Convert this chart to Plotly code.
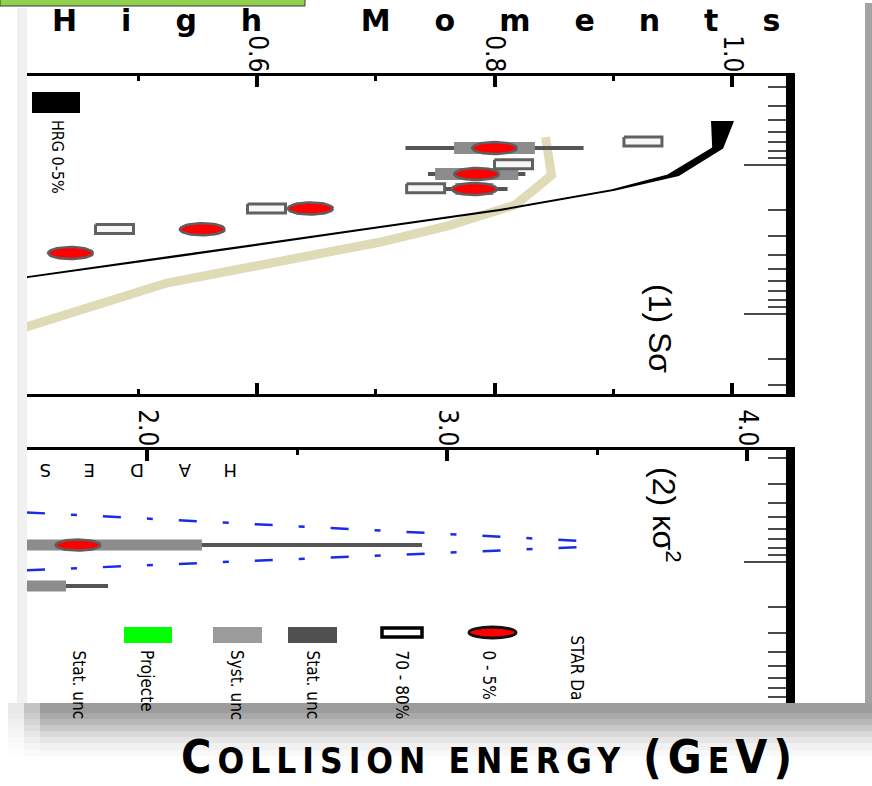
import numpy as np
import plotly.graph_objects as go

W, H = 872, 786

# ---------------- Panel (1): S*sigma versus collision energy ----------------
star_energy = [7.7, 11.5, 14.5, 19.6, 27.0, 39.0]
ssig_0_5 = [0.800, 0.785, 0.783, 0.645, 0.554, 0.443]
ssig_0_5_stat = [0.075, 0.041, 0.028, 0.014, 0.012, 0.012]
ssig_0_5_sys = [0.034, 0.035, 0.016, 0.012, 0.010, 0.010]

periph_energy = [6.95, 9.9, 14.3, 19.6, 26.9]
ssig_70_80 = [0.925, 0.816, 0.742, 0.608, 0.480]

hrg_energy = [5.07, 7.69, 11.7, 14.7, 20.0, 22.3, 27.0, 39.0, 56.5, 62.4]
hrg_low = [0.983, 0.984, 0.946, 0.899, 0.804, 0.762, 0.690, 0.551, 0.406, 0.370]
hrg_high = [1.001, 0.992, 0.955, 0.901, 0.806, 0.764, 0.692, 0.553, 0.408, 0.372]

model_energy = [6.5, 11.7, 14.5, 18.6, 25.7, 33.0, 62.0, 122.0, 200.0]
model_ssig = [0.843, 0.848, 0.834, 0.817, 0.760, 0.703, 0.524, 0.406, 0.320]

# ---------------- Panel (2): kappa*sigma^2 versus collision energy ----------------
k_energy = [7.7, 14.5]
ksig2_0_5 = [1.77, 1.45]
ksig2_stat = [1.147, 0.42]
ksig2_sys = [0.413, 0.28]

proj_hi_energy = [4.65, 7.23]
proj_hi = [1.60, 3.453]
proj_lo_energy = [11.37, 7.93]
proj_lo = [1.60, 3.453]

# ---------------- tick values ----------------
top_ticks = [0.6, 0.8, 1.0]
top_minor = [0.5, 0.7, 0.9]
bot_ticks = [2.0, 3.0, 4.0]
bot_minor = [2.5, 3.5]
energy_major = [10, 100]
energy_minor = [2, 3, 4, 5, 6, 7, 8, 9, 20, 30, 40, 50, 60, 70, 80, 90, 200, 300]

legend_labels = ["STAR Da", "0 - 5%", "70 - 80%", "Stat. unc", "Syst. unc", "Projecte", "Stat. unc"]


def px(x):
    return x / W


def py(y):
    return 1 - y / H


# ---------------- axis geometry ----------------
PLOT_L, PLOT_R = 27, 786
TOP_T, TOP_B = 75.5, 394
BOT_T, BOT_B = 449.5, 703
x1_range = [0.6 - (257 - PLOT_L) / 1187.5, 0.6 + (PLOT_R - 257) / 1187.5]
y1_range = [1 + (TOP_B - 165) / 149, 1 - (165 - TOP_T) / 149]
x2_range = [2.0 - (147 - PLOT_L) / 300, 2.0 + (PLOT_R - 147) / 300]
y2_range = [1 + (BOT_B - 562) / 149, 1 - (562 - BOT_T) / 149]

x1_per_px = (x1_range[1] - x1_range[0]) / (PLOT_R - PLOT_L)
x2_per_px = (x2_range[1] - x2_range[0]) / (PLOT_R - PLOT_L)
y1_dec_per_px = (y1_range[0] - y1_range[1]) / (TOP_B - TOP_T)
y2_dec_per_px = (y2_range[0] - y2_range[1]) / (BOT_B - BOT_T)

NARROW = "Liberation Sans Narrow, DejaVu Sans Condensed, Liberation Sans, Arial, sans-serif"

fig = go.Figure()


def marker_polys(xs, es, kind, half_w_px, half_h_px, xpp, dpp):
    """Closed outlines (ellipse or rectangle) around each data point, in data units."""
    X, Y = [], []
    if kind == "ellipse":
        t = np.linspace(0, 2 * np.pi, 49)
        cx, cy = np.cos(t), np.sin(t)
    else:
        cx = np.array([-1, 1, 1, -1, -1])
        cy = np.array([-1, -1, 1, 1, -1])
    for xv, ev in zip(xs, es):
        X += list(xv + half_w_px * xpp * cx) + [None]
        Y += list(ev * 10 ** (half_h_px * dpp * cy)) + [None]
    return X, Y


# panel 1 traces
fig.add_trace(go.Scatter(x=model_ssig, y=model_energy, mode="lines",
                         line=dict(color="#dfdbb6", width=9), xaxis="x", yaxis="y",
                         hoverinfo="skip", showlegend=False))
fig.add_trace(go.Scatter(x=hrg_low + hrg_high[::-1], y=hrg_energy + hrg_energy[::-1],
                         mode="lines", fill="toself", fillcolor="black",
                         line=dict(color="black", width=1.6), xaxis="x", yaxis="y",
                         hoverinfo="skip", showlegend=False))
fig.add_trace(go.Scatter(x=ssig_0_5, y=star_energy, mode="markers",
                         marker=dict(size=2, color="rgba(0,0,0,0)"),
                         error_x=dict(type="data", array=ssig_0_5_stat, thickness=4, width=0, color="#555555"),
                         xaxis="x", yaxis="y", showlegend=False, hoverinfo="skip"))
fig.add_trace(go.Scatter(x=ssig_0_5, y=star_energy, mode="markers",
                         marker=dict(size=2, color="rgba(0,0,0,0)"),
                         error_x=dict(type="data", array=ssig_0_5_sys, thickness=12, width=0, color="#8c8c8c"),
                         xaxis="x", yaxis="y", showlegend=False, hoverinfo="skip"))
rx, ry = marker_polys(ssig_70_80, periph_energy, "rect", 19, 4.5, x1_per_px, y1_dec_per_px)
fig.add_trace(go.Scatter(x=rx, y=ry, mode="lines", fill="toself", fillcolor="#f7f7f7",
                         line=dict(color="#616161", width=3), xaxis="x", yaxis="y",
                         showlegend=False, hoverinfo="skip"))
ex, ey = marker_polys(ssig_0_5, star_energy, "ellipse", 22.5, 6, x1_per_px, y1_dec_per_px)
fig.add_trace(go.Scatter(x=ex, y=ey, mode="lines", fill="toself", fillcolor="#ff0000",
                         line=dict(color="#5f5f5f", width=2.5), xaxis="x", yaxis="y",
                         showlegend=False, hoverinfo="skip"))

# panel 2 traces
for xv, ev in ((proj_hi, proj_hi_energy), (proj_lo, proj_lo_energy)):
    fig.add_trace(go.Scatter(x=xv, y=ev, mode="lines",
                             line=dict(color="#1a2be8", width=2.5, dash="18px,26px,6px,26px"),
                             xaxis="x2", yaxis="y2", showlegend=False, hoverinfo="skip"))
fig.add_trace(go.Scatter(x=ksig2_0_5, y=k_energy, mode="markers",
                         marker=dict(size=2, color="rgba(0,0,0,0)"),
                         error_x=dict(type="data", array=ksig2_stat, thickness=4, width=0, color="#555555"),
                         xaxis="x2", yaxis="y2", showlegend=False, hoverinfo="skip"))
fig.add_trace(go.Scatter(x=ksig2_0_5, y=k_energy, mode="markers",
                         marker=dict(size=2, color="rgba(0,0,0,0)"),
                         error_x=dict(type="data", array=ksig2_sys, thickness=11, width=0, color="#8c8c8c"),
                         xaxis="x2", yaxis="y2", showlegend=False, hoverinfo="skip"))
ex2, ey2 = marker_polys(ksig2_0_5, k_energy, "ellipse", 22.5, 5.5, x2_per_px, y2_dec_per_px)
fig.add_trace(go.Scatter(x=ex2, y=ey2, mode="lines", fill="toself", fillcolor="#ff0000",
                         line=dict(color="#5f5f5f", width=2.5), xaxis="x2", yaxis="y2",
                         showlegend=False, hoverinfo="skip"))

shapes = []


def prect(x0, y0, x1, y1, fill, lc=None, lw=0):
    return dict(type="rect", xref="paper", yref="paper", x0=px(x0), x1=px(x1), y0=py(y1), y1=py(y0),
                fillcolor=fill, line=dict(color=lc or fill, width=lw), layer="above")


# HRG legend swatch
shapes.append(prect(32, 92, 80, 113, "black"))
# bottom legend swatches
shapes.append(dict(type="circle", xref="paper", yref="paper", x0=px(469), x1=px(516), y0=py(638), y1=py(627),
                   fillcolor="#ff0000", line=dict(color="#111111", width=3), layer="above"))
shapes.append(prect(382, 628, 422, 637, "white", "#000000", 3.5))
shapes.append(prect(288, 627, 337, 643, "#505050"))
shapes.append(prect(213, 627, 262, 643, "#9b9b9b"))
shapes.append(prect(124, 627, 172, 643, "#00ff00"))

# slide frame decorations
shapes.append(prect(0, -2, 305, 6, "#92d050", "#3a3a3a", 1))
shapes.append(prect(17, 8, 27, 703, "#f1f1f1"))
shapes.append(prect(865, 3, 873, 703, "#a3a3a3"))
shadow = [(703, 713, "#9c9c9c", "#c4c4c4", "#e8e8e8"), (713, 719, "#a9a9a9", "#cccccc", "#ececec"),
          (719, 725, "#b8b8b8", "#d5d5d5", "#f0f0f0"), (725, 731, "#c9c9c9", "#dedede", "#f3f3f3"),
          (731, 737, "#d9d9d9", "#e7e7e7", "#f6f6f6"), (737, 743, "#e6e6e6", "#efefef", "#f9f9f9"),
          (743, 750, "#f1f1f1", "#f5f5f5", "#fbfbfb"), (750, 756, "#f8f8f8", "#fafafa", "#fdfdfd")]
for a, b, c0, c1, c2 in shadow:
    shapes.append(prect(40, a, 873, b, c0))
    shapes.append(prect(24, a, 40, b, c1))
    shapes.append(prect(8, a, 24, b, c2))

annotations = []


def ann(text, x, y, size, angle=0, xa="center", ya="middle", family="Liberation Sans, Arial, sans-serif",
        color="black"):
    annotations.append(dict(text=text, x=px(x), y=py(y), xref="paper", yref="paper", showarrow=False,
                            textangle=angle, xanchor=xa, yanchor=ya,
                            font=dict(size=size, family=family, color=color)))


ann('<b><span style="letter-spacing:44px">High Moments</span></b>', 50, 20, 30, xa="left",
    family="DejaVu Sans, sans-serif")
ann("HRG 0-5%", 58, 118, 16, angle=90, ya="top", family=NARROW)
ann("(1) Sσ", 660, 328, 32, angle=90)
ann("(2) κσ<sup>2</sup>", 666, 515, 32, angle=90)

hades_letters = list("HADES")
hades_x = [230, 185, 137, 90, 46]
for ch, hx in zip(hades_letters, hades_x):
    ann(ch, hx, 471, 18, angle=180, family="DejaVu Sans, sans-serif")

leg_x = [577, 489, 402, 313, 237, 147, 79]
leg_top = [633, 648, 648, 648, 648, 648, 648]
for lab, lx, lt in zip(legend_labels, leg_x, leg_top):
    ann(lab, lx, lt, 17, angle=90, ya="top", family=NARROW)

sp = "letter-spacing:6px"
ann(f'<b><span style="{sp}">C</span><span style="{sp};font-size:35px">OLLISION ENERGY </span>'
    f'<span style="{sp}">(G</span><span style="{sp};font-size:35px">E</span><span style="{sp}">V)</span></b>',
    489, 757, 46, family=NARROW)

tickfont = dict(size=26, family=NARROW, color="black")


def value_axis(rng, major, minor, domain, anchor, mirror):
    return dict(domain=domain, range=rng, side="top", anchor=anchor, showline=True, linecolor="black",
                linewidth=3, mirror=mirror, ticks="inside", tickmode="array", tickvals=major,
                ticktext=[f"{v:.1f}" for v in major], ticklen=11, tickwidth=3.5, tickcolor="black",
                tickangle=90, tickfont=tickfont, ticklabelstandoff=-9,
                minor=dict(tickmode="array", tickvals=minor, ticklen=5, tickwidth=3, tickcolor="black",
                           ticks="inside"),
                showgrid=False, zeroline=False, fixedrange=True)


def energy_axis(rng, domain, anchor):
    return dict(domain=domain, range=rng, type="log", side="right", anchor=anchor, showline=True,
                linecolor="black", linewidth=9, mirror=False, ticks="inside", tickmode="array",
                tickvals=energy_major, ticklen=42, tickwidth=1.5, tickcolor="#4a4a4a",
                showticklabels=False,
                minor=dict(tickmode="array", tickvals=energy_minor, ticklen=18, tickwidth=1.5,
                           tickcolor="#4a4a4a", ticks="inside"),
                showgrid=False, zeroline=False, fixedrange=True)


xdom = [px(PLOT_L), px(PLOT_R)]
fig.update_layout(
    width=W, height=H, margin=dict(l=0, r=0, t=0, b=0),
    paper_bgcolor="white", plot_bgcolor="white", showlegend=False,
    xaxis=value_axis(x1_range, top_ticks, top_minor, xdom, "y", "ticks"),
    yaxis=energy_axis(y1_range, [py(TOP_B), py(TOP_T)], "x"),
    xaxis2=value_axis(x2_range, bot_ticks, bot_minor, xdom, "y2", False),
    yaxis2=energy_axis(y2_range, [py(BOT_B), py(BOT_T)], "x2"),
    shapes=shapes,
    annotations=annotations,
)

fig.write_html("out.html")
